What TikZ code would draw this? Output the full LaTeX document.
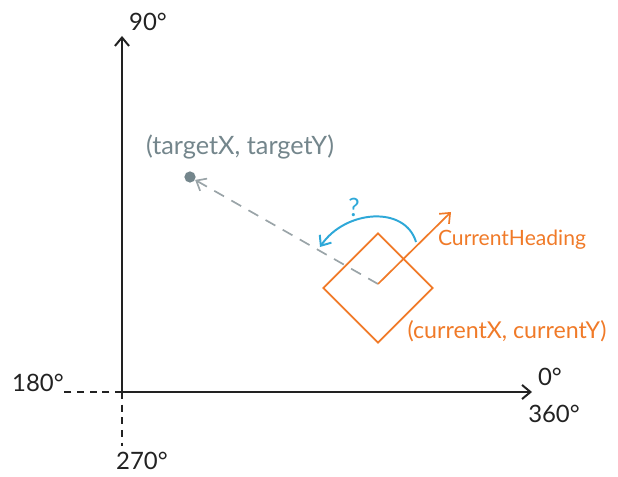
\documentclass[tikz,border=0pt]{standalone}
\usepackage{fontspec}
\setmainfont{Lato}
\usetikzlibrary{shapes.geometric,arrows.meta}
\definecolor{axisc}{HTML}{222222}
\definecolor{targc}{HTML}{74868C}
\definecolor{dashc}{HTML}{9AA4A8}
\definecolor{robc}{HTML}{F07A28}
\definecolor{turnc}{HTML}{2EA8D8}
\tikzset{
  >={Straight Barb[length=6pt,width=10pt]},
  axis/.style={draw=axisc, line width=1.4pt},
  negaxis/.style={draw=axisc, line width=1.1pt, dash pattern=on 5pt off 4pt},
  deg/.style={text=axisc, font=\fontsize{17}{20}\selectfont},
  lbl/.style={font=\fontsize{16}{19}\selectfont},
}
\begin{document}
\begin{tikzpicture}[x=0.025cm,y=-0.025cm]
\useasboundingbox (0,0) rectangle (618,477);
% axes
\coordinate (o) at (122,392);
\coordinate (ytop) at (122,36);
\coordinate (xend) at (532,392);
\coordinate (xneg) at (64,392);
\coordinate (yneg) at (122,446);
\draw[axis,->] (o) -- (ytop);
\draw[axis,->] (o) -- (xend);
\draw[negaxis] (o) -- (xneg);
\draw[negaxis] (o) -- (yneg);
\node[deg] (d90) at (148,22) {90°};
\node[deg] (d0) at (550,377) {0°};
\node[deg] (d360) at (554,414) {360°};
\node[deg] (d180) at (38,383) {180°};
\node[deg] (d270) at (142,461) {270°};
% target
\node[circle, fill=targc, inner sep=0pt, minimum size=8pt] (target) at (190,177) {};
\node[lbl, text=targc, font=\fontsize{18}{21}\selectfont] (targetlbl) at (240,147) {(targetX, targetY)};
% robot
\node[diamond, draw=robc, line width=1.3pt, inner sep=0pt, minimum size=2.75cm] (robot) at (378,288) {};
\coordinate (c) at (378,284);
\coordinate (head) at (451,212);
\draw[dashc, line width=1.2pt, dash pattern=on 8pt off 6pt, ->] (c) -- (target);
\draw[robc, line width=1.2pt, ->] (c) -- (head);
\node[lbl, text=robc, font=\fontsize{15}{18}\selectfont] (headlbl) at (512,240) {CurrentHeading};
\node[lbl, text=robc, font=\fontsize{16.5}{19}\selectfont] (poslbl) at (507,331) {(currentX, currentY)};
% turn
\coordinate (t1) at (416,242);
\coordinate (t2) at (320,247);
\draw[turnc, line width=1.4pt, ->] (t1) .. controls (405,205) and (345,210) .. (t2);
\node[lbl, text=turnc, font=\fontsize{18}{21}\selectfont] (q) at (354,207) {?};
\end{tikzpicture}
\end{document}
